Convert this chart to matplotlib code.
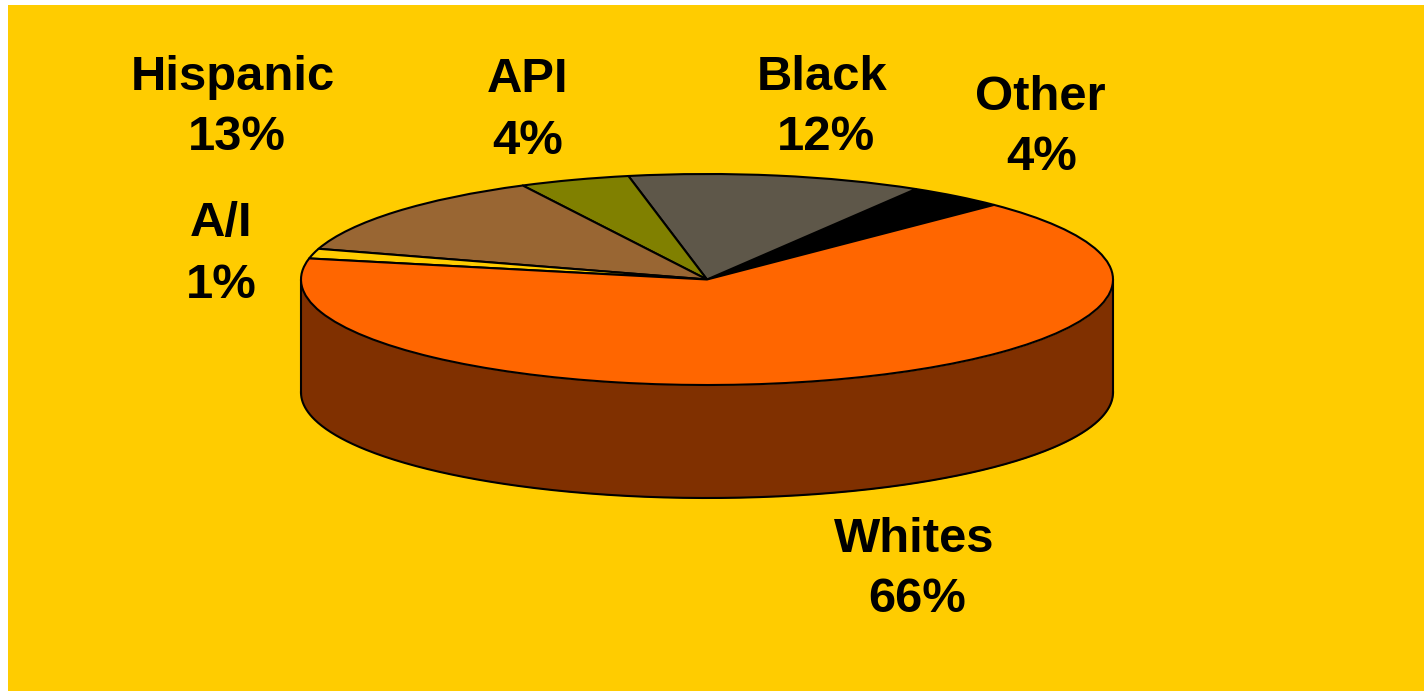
import numpy as np
import matplotlib
matplotlib.use("Agg")
import matplotlib.pyplot as plt
from matplotlib.patches import Rectangle

plt.rcParams['font.family'] = ['Liberation Sans', 'DejaVu Sans']

categories = ["Other", "Black", "API", "Hispanic", "A/I", "Whites"]
percent_labels = ["4%", "12%", "4%", "13%", "1%", "66%"]
slice_shares = [3.9, 11.7, 4.4, 12.8, 1.5, 65.7]
slice_colors = ["#000000", "#5E5749", "#808000", "#996633", "#FFCC00", "#FF6600"]

W, H = 1424, 691
BG = "#FFCC00"
WALL = "#803000"
LW = 1.5

fig = plt.figure(figsize=(W / 100, H / 100), dpi=100, facecolor="white")
fig.add_artist(Rectangle((8 / W, 0), (W - 8) / W, (H - 5) / H, transform=fig.transFigure,
                         facecolor=BG, edgecolor="none", zorder=-5))

# pie axes in pixel extents: top face ellipse 301..1113 / 174..385, wall 113 px deep
left, right, top, bottom = 301, 1113, 174, 498
ry = 105.5
depth = 113 / ry
ax = fig.add_axes([left / W, 1 - bottom / H, (right - left) / W, (bottom - top) / H])
ax.patch.set_alpha(0)

ax.pie(slice_shares, colors=slice_colors, startangle=45, counterclock=True,
       wedgeprops=dict(edgecolor="black", linewidth=LW, zorder=3, clip_on=False, joinstyle="round"))
ax.set_aspect("auto")
ax.set_xlim(-1, 1)
ax.set_ylim(-1 - depth, 1)
ax.axis("off")

t = np.linspace(np.pi, 2 * np.pi, 400)
xs, ys = np.cos(t), np.sin(t)
ax.fill_between(xs, ys - depth, ys, color=WALL, linewidth=0, zorder=1)
ax.plot(xs, ys - depth, color="black", lw=LW, zorder=2, clip_on=False)
ax.plot([-1, -1], [0, -depth], color="black", lw=LW, zorder=2, clip_on=False)
ax.plot([1, 1], [0, -depth], color="black", lw=LW, zorder=2, clip_on=False)

# label centres in pixels: (name x, name y, percent x, percent y)
label_pos = {
    "Other": (1040, 98, 1042, 158),
    "Black": (822, 77, 826, 137),
    "API": (528, 80, 528, 142),
    "Hispanic": (233, 77, 237, 137),
    "A/I": (221, 224, 221, 285),
    "Whites": (914, 539, 917, 600),
}
for name, pct in zip(categories, percent_labels):
    nx, ny, px, py = label_pos[name]
    fig.text(nx / W, 1 - ny / H, name, ha="center", va="center", fontsize=35.3,
             fontweight="bold", color="black")
    fig.text(px / W, 1 - py / H, pct, ha="center", va="center", fontsize=35.3,
             fontweight="bold", color="black")

fig.savefig("out.png", dpi=100, facecolor="white")
